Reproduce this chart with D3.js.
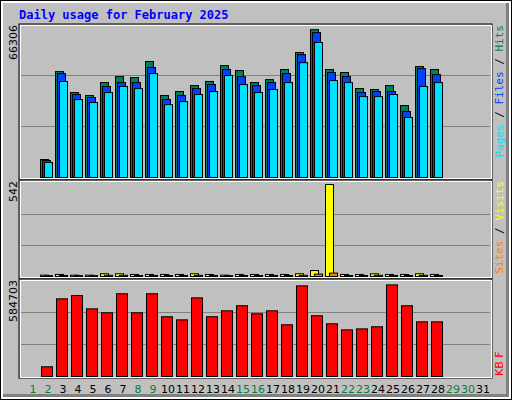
<!DOCTYPE html>
<html>
<head>
<meta charset="UTF-8">
<script src="https://cdn.jsdelivr.net/npm/d3@7"></script>
<style>body{margin:0;padding:0;overflow:hidden}</style>
</head>
<body>
<svg id="chart" width="512" height="400"></svg>
<script>
var days = d3.range(1, 32);
var weekend = [1, 2, 8, 9, 15, 16, 22, 23, 29, 30];
// daily values, days 1..31 (null = no data)
var hits  = [0, 7850, 46200, 37060, 35750, 41400, 44000, 43600, 50600, 35750, 37500, 40100, 41900, 48800, 46650, 41400, 42700, 47100, 54500, 64500, 47100, 45800, 38800, 38400, 40100, 31400, 48400, 47100, 0, 0, 0];
var files = [0, 7400, 45350, 36200, 34900, 39700, 41400, 41400, 48000, 34000, 35750, 38800, 40550, 47100, 44000, 40100, 41400, 45350, 53600, 63200, 45800, 44000, 37060, 37500, 37500, 28800, 47500, 44900, 0, 0, 0];
var pages = [0, 6540, 41900, 34000, 32700, 37060, 39700, 38800, 45350, 31800, 33100, 36200, 37500, 44500, 40550, 37060, 38400, 41400, 50100, 58900, 42300, 41400, 35300, 35300, 36200, 26200, 39700, 41400, 0, 0, 0];
var visits = [0, 8, 12, 8, 8, 16, 16, 12, 12, 12, 12, 16, 12, 8, 12, 12, 12, 12, 16, 35, 542, 12, 12, 16, 12, 12, 16, 12, 0, 0, 0];
var sites  = [0, 5, 6, 5, 5, 7, 7, 6, 6, 6, 6, 7, 6, 5, 6, 6, 6, 6, 7, 14, 20, 6, 6, 7, 6, 6, 7, 6, 0, 0, 0];
var kbytes = [0, 59000, 473000, 493000, 412000, 388000, 504000, 388000, 504000, 364000, 345000, 479000, 364000, 400000, 431000, 382000, 400000, 315000, 552000, 370000, 321000, 284000, 290000, 303000, 558000, 431000, 333000, 333000, 0, 0, 0];
var maxHits = 66306, maxVisits = 542, maxKB = 584703;

var svg = d3.select("#chart");
var W = 512, H = 400;

// outer frame
svg.append("rect").attr("width", W).attr("height", H).attr("fill", "#000");
svg.append("rect").attr("x", 1).attr("y", 1).attr("width", W - 2).attr("height", H - 2).attr("fill", "#fff");
svg.append("rect").attr("x", 3).attr("y", 3).attr("width", W - 6).attr("height", H - 6).attr("fill", "#808080");
svg.append("rect").attr("x", 3).attr("y", 3).attr("width", W - 9).attr("height", H - 9).attr("fill", "#c0c0c0");

svg.append("text").attr("x", 19).attr("y", 19)
  .attr("font-family", "DejaVu Sans Mono, monospace").attr("font-weight", "bold")
  .attr("font-size", 12).attr("fill", "#0000ff").text("Daily usage for February 2025");

var x = d3.scaleLinear().domain([1, 31]).range([25, 475]); // left edge of each day's slot

function panel(y0, y1) {
  svg.append("rect").attr("x", 19).attr("y", y0 - 1).attr("width", 473).attr("height", y1 - y0 + 2)
    .attr("fill", "none").attr("stroke", "#000").attr("stroke-width", 1);
  svg.append("rect").attr("x", 20).attr("y", y0).attr("width", 471).attr("height", y1 - y0)
    .attr("fill", "none").attr("stroke", "#fff").attr("stroke-width", 1).attr("shape-rendering", "crispEdges");
}
function grid(y, lines) {
  svg.selectAll(null).data(lines).join("line")
    .attr("x1", 21).attr("x2", 490).attr("y1", d => y(d)).attr("y2", d => y(d))
    .attr("stroke", "#808080").attr("shape-rendering", "crispEdges");
}
function bars(data, y, off, w, color) {
  svg.append("g").selectAll("rect").data(data.map((v, i) => [i + 1, v]).filter(d => d[1] > 0)).join("rect")
    .attr("x", d => x(d[0]) + off + 0.5).attr("y", d => y(d[1]) + 0.5)
    .attr("width", w).attr("height", d => y(0) - y(d[1]))
    .attr("fill", color).attr("stroke", "#000").attr("stroke-width", 1);
}
function vlabel(txt, px, py, color, anchor) {
  svg.append("text").attr("transform", "translate(" + px + "," + py + ") rotate(-90)")
    .attr("text-anchor", anchor || "end").attr("font-family", "DejaVu Sans, sans-serif")
    .attr("font-size", 11).attr("fill", color).text(txt);
}

// top panel: hits/files/pages
var y1 = d3.scaleLinear().domain([0, maxHits]).range([177, 25]);
panel(25, 178);
grid(y1, [maxHits / 3, maxHits * 2 / 3]);
bars(hits, y1, 0, 8, "#00805c");
bars(files, y1, 2, 8, "#0040ff");
bars(pages, y1, 4, 8, "#00e0ff");
vlabel(String(maxHits), 17, 25, "#000", "end");
var t = svg.append("text").attr("transform", "translate(503,25) rotate(-90)")
  .attr("text-anchor", "end").attr("font-family", "DejaVu Sans Mono, monospace").attr("font-size", 11);
t.append("tspan").attr("fill", "#00e0ff").text("Pages");
t.append("tspan").attr("fill", "#000").text(" / ");
t.append("tspan").attr("fill", "#0040ff").text("Files");
t.append("tspan").attr("fill", "#000").text(" / ");
t.append("tspan").attr("fill", "#00805c").text("Hits");

// middle panel: visits/sites
var y2 = d3.scaleLinear().domain([0, maxVisits]).range([276, 184]);
panel(181, 277);
grid(y2, [maxVisits / 3, maxVisits * 2 / 3]);
bars(visits, y2, 0, 8, "#ffff00");
bars(sites, y2, 4, 8, "#ff8000");
vlabel(String(maxVisits), 17, 181, "#000", "end");
var t2 = svg.append("text").attr("transform", "translate(503,181) rotate(-90)")
  .attr("text-anchor", "end").attr("font-family", "DejaVu Sans Mono, monospace").attr("font-size", 11);
t2.append("tspan").attr("fill", "#ff8000").text("Sites");
t2.append("tspan").attr("fill", "#000").text(" / ");
t2.append("tspan").attr("fill", "#ffff00").text("Visits");

// bottom panel: kbytes
var y3 = d3.scaleLinear().domain([0, maxKB]).range([376, 280]);
panel(280, 377);
grid(y3, [maxKB / 3, maxKB * 2 / 3]);
bars(kbytes, y3, 1, 11, "#ff0000");
vlabel(String(maxKB), 17, 280, "#000", "end");
vlabel("KB F", 503, 376, "#ff0000", "start");

// day labels
svg.selectAll(null).data(days).join("text")
  .attr("x", d => x(d) + 8).attr("y", 393).attr("text-anchor", "middle")
  .attr("font-family", "DejaVu Sans, sans-serif").attr("font-size", 11)
  .attr("fill", d => weekend.includes(d) ? "#008040" : "#000").text(d => d);
</script>
</body>
</html>
